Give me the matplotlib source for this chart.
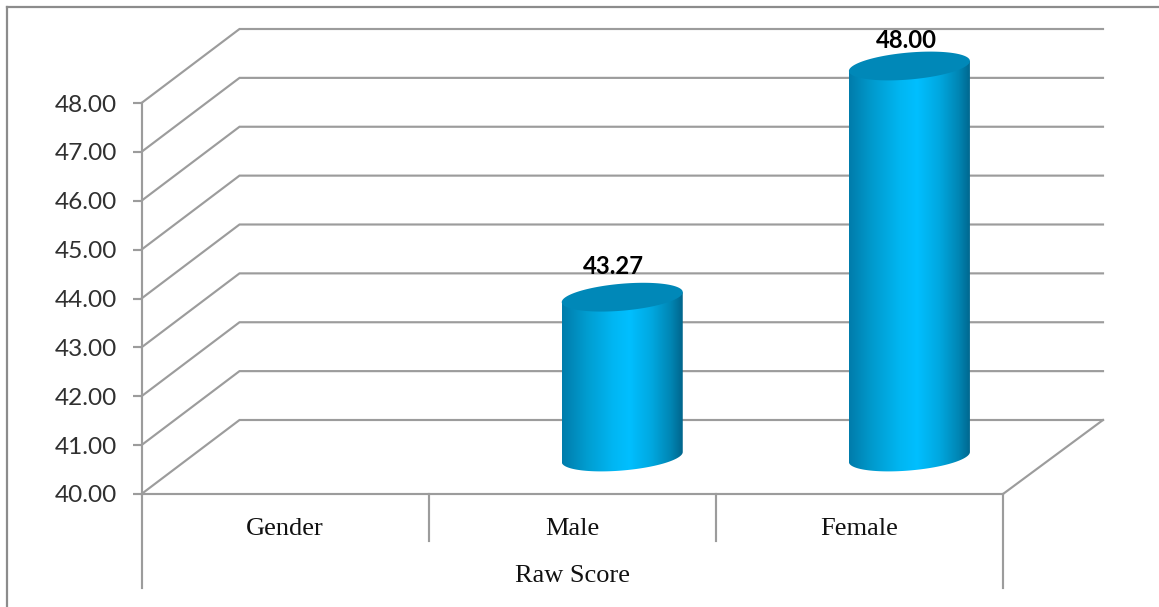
import numpy as np
import matplotlib
matplotlib.use("Agg")
import matplotlib.pyplot as plt
from matplotlib.colors import LinearSegmentedColormap
from matplotlib.lines import Line2D
from matplotlib.patches import Polygon

# Chart data
categories = ["Gender", "Male", "Female"]
group_label = "Raw Score"
scores = [None, 43.27, 48.00]
score_labels = ["", "43.27", "48.00"]
y_ticks = [40, 41, 42, 43, 44, 45, 46, 47, 48]

# Canvas and plot-plane geometry, in pixels
W, H = 1159, 607
LEFT, RIGHT = 141.5, 1003.0
Y40, Y48 = 494.0, 103.0
DEPTH_X, DEPTH_Y = 98.0, 74.0
GRID_COLOR = "#9c9c9c"
LW = 1.55

fig = plt.figure(figsize=(W / 100, H / 100), dpi=100, facecolor="white")
ax = fig.add_axes([LEFT / W, 1 - Y40 / H, (RIGHT - LEFT) / W, (Y40 - Y48) / H])
ax.set_xlim(-0.5, 2.5)
ax.set_ylim(40, 48)

ux = 3.0 / (RIGHT - LEFT)      # x data units per pixel
uy = 8.0 / (Y40 - Y48)         # y data units per pixel
dx, dy = DEPTH_X * ux, DEPTH_Y * uy
back_right = 2.5 + (DEPTH_X + 2) * ux

# Floor, side wall and back wall gridlines
for v in y_ticks:
    ax.plot([-0.5, -0.5 + dx, back_right], [v, v + dy, v + dy],
            color=GRID_COLOR, lw=LW, clip_on=False, zorder=1,
            solid_joinstyle="miter")
ax.plot([2.5, back_right], [40, 40 + dy], color=GRID_COLOR, lw=LW,
        clip_on=False, zorder=1)

# Multi-level category dividers below the floor
for x, drop in [(-0.5, 94), (0.5, 47), (1.5, 47), (2.5, 94)]:
    ax.plot([x, x], [40, 40 - drop * uy], color=GRID_COLOR, lw=LW,
            clip_on=False, zorder=1)

# Cylinders
body_cmap = LinearSegmentedColormap.from_list(
    "cylinder",
    [(0.0, "#007cab"), (0.2, "#009ccf"), (0.42, "#00b6f2"), (0.56, "#00bfff"),
     (0.74, "#00a8e0"), (0.9, "#0086b4"), (1.0, "#00658c")],
)
BAR_W = 121 * ux
BASE = 40 + 37 * uy
CENTER_SHIFT = 50 * ux
SHEAR, MINOR = 5.0 * uy, 13.5 * uy
t = np.linspace(0, 2 * np.pi, 181)
gradient = np.linspace(0, 1, 256).reshape(1, -1)

for i, value in enumerate(scores):
    if value is None:
        continue
    cx = i + CENTER_SHIFT
    half = BAR_W / 2
    top = BASE + (value - 40)
    ex = half * np.cos(t)
    ey = SHEAR * np.cos(t) + MINOR * np.sin(t)
    lower = (t >= np.pi)
    outline = np.vstack([
        np.column_stack([cx + ex[lower], BASE + ey[lower]]),
        [[cx + half, top + SHEAR], [cx - half, top - SHEAR]],
    ])
    im = ax.imshow(gradient, cmap=body_cmap, aspect="auto", zorder=3,
                   extent=(cx - half, cx + half, BASE - 20 * uy, top + 20 * uy))
    im.set_clip_box(fig.bbox)
    im.set_clip_path(Polygon(outline, closed=True, transform=ax.transData))
    ax.fill(cx + ex, top + ey, color="#0088b8", lw=0, zorder=4, clip_on=False)

ax.set_xlim(-0.5, 2.5)
ax.set_ylim(40, 48)

# Value labels above each cylinder
label_font = dict(family="Lato", fontsize=17.2, fontweight="bold", color="black",
                  ha="center", va="center", zorder=5, annotation_clip=False)
ax.annotate(score_labels[1], (1 + CENTER_SHIFT, BASE + scores[1] - 40),
            xytext=(-6.5, 22), textcoords="offset points", **label_font)
ax.annotate(score_labels[2], (2 + CENTER_SHIFT, BASE + scores[2] - 40),
            xytext=(-2, 18), textcoords="offset points", **label_font)

# Axes decoration
ax.patch.set_visible(False)
for name in ("top", "right"):
    ax.spines[name].set_visible(False)
for name in ("left", "bottom"):
    ax.spines[name].set_color(GRID_COLOR)
    ax.spines[name].set_linewidth(LW)

ax.set_yticks(y_ticks)
ax.set_yticklabels([f"{v:.2f}" for v in y_ticks], family="Lato", fontsize=17.6,
                   color="#303030")
ax.tick_params(axis="y", length=6.5, width=LW, color=GRID_COLOR, pad=11)

ax.set_xticks(range(len(categories)))
ax.set_xticklabels(categories, family="Liberation Serif", fontsize=19, color="#111111")
ax.tick_params(axis="x", length=0, pad=17)
ax.set_xlabel(group_label, family="Liberation Serif", fontsize=19, color="#111111",
              labelpad=18)

# Outer frame, cut off by the canvas on the right and at the bottom
frame = dict(color="#8c8c8c", lw=1.6, transform=fig.transFigure)
fig.add_artist(Line2D([6.5 / W, 6.5 / W], [0, 1 - 6.5 / H], **frame))
fig.add_artist(Line2D([6.5 / W, 1], [1 - 6.5 / H, 1 - 6.5 / H], **frame))

fig.savefig("out.png", dpi=100)
